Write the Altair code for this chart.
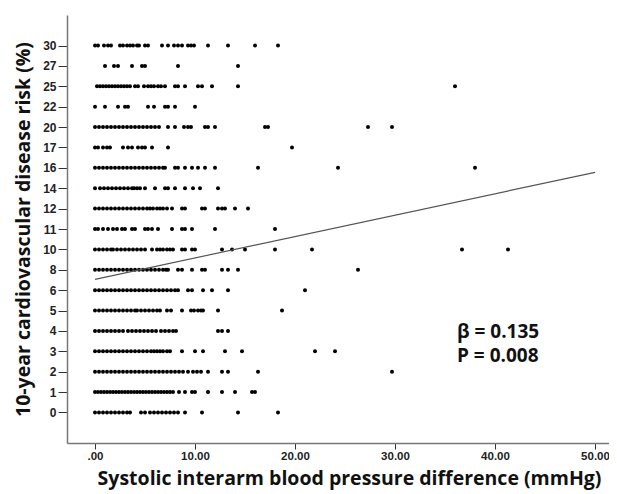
import altair as alt
import pandas as pd

# Risk categories (evenly spaced on the y axis)
risk_levels = ["0", "1", "2", "3", "4", "5", "6", "8", "10", "11", "12",
               "14", "16", "17", "20", "22", "25", "27", "30"]

x_r0 = [0, 0.4, 0.8, 1.2, 1.6, 2.0, 2.4, 2.8, 3.2, 3.5, 4.6, 5.0, 5.5, 5.9, 6.3,
        6.7, 7.1, 7.5, 7.9, 8.3, 9.0, 10.7, 14.3, 18.3]
x_r1 = [0, 0.3, 0.6, 0.9, 1.2, 1.5, 1.8, 2.1, 2.4, 2.7, 3.0, 3.3, 3.6, 3.9, 4.2,
        4.5, 4.8, 5.1, 5.4, 5.7, 6.0, 6.3, 6.6, 6.9, 7.2, 7.5, 7.8, 8.4, 9.0, 9.7,
        10.0, 11.3, 12.7, 14.0, 15.7, 16.0]
x_r2 = [0, 0.4, 0.8, 1.2, 1.6, 2.0, 2.4, 2.8, 3.2, 3.6, 4.0, 4.4, 4.8, 5.2, 5.6,
        6.0, 6.4, 6.8, 7.2, 7.6, 8.0, 8.4, 8.8, 9.3, 9.8, 10.2, 10.6, 11.3, 12.7,
        13.3, 16.3, 29.7]
x_r3 = [0, 0.4, 0.8, 1.2, 1.6, 2.0, 2.4, 2.8, 3.2, 3.6, 4.0, 4.4, 4.8, 5.2, 5.6,
        5.9, 6.2, 6.5, 6.8, 7.2, 7.5, 8.7, 10.0, 10.8, 13.0, 14.7, 22.0, 24.0]
x_r4 = [0, 0.4, 0.8, 1.2, 1.6, 2.0, 2.4, 2.8, 3.3, 3.7, 4.1, 4.5, 4.9, 5.3, 5.7,
        6.1, 6.6, 7.0, 7.4, 7.8, 8.1, 12.3, 12.7, 13.3]
x_r5 = [0, 0.4, 0.8, 1.2, 1.6, 2.0, 2.4, 2.8, 3.2, 3.6, 4.0, 4.2, 4.6, 5.0, 5.4,
        5.8, 6.2, 6.5, 7.2, 7.6, 8.7, 9.6, 9.9, 10.3, 10.6, 10.8, 12.3, 18.7]
x_r6 = [0, 0.4, 0.8, 1.2, 1.6, 2.0, 2.4, 2.8, 3.2, 3.6, 4.0, 4.4, 4.8, 5.2, 5.6,
        6.0, 6.4, 6.8, 7.2, 7.6, 8.0, 8.3, 9.3, 9.7, 10.8, 11.7, 13.3, 21.0]
x_r8 = [0, 0.4, 0.8, 1.2, 1.6, 2.0, 2.4, 2.8, 3.2, 3.6, 4.0, 4.4, 4.8, 5.2, 5.6,
        6.0, 6.4, 6.8, 7.1, 7.3, 8.3, 8.7, 9.7, 10.7, 11.0, 12.7, 13.3, 14.3, 26.3]
x_r10 = [0, 0.4, 0.8, 1.2, 1.6, 1.8, 2.2, 2.6, 3.0, 3.4, 3.8, 4.2, 4.6, 5.0, 5.7,
         6.2, 6.5, 6.8, 7.2, 7.5, 7.8, 8.7, 9.0, 9.7, 10.0, 12.7, 13.7, 15.0, 18.0,
         21.7, 36.7, 41.3]
x_r11 = [0, 0.3, 0.8, 1.3, 1.8, 2.2, 2.7, 3.0, 3.7, 4.0, 5.0, 5.3, 5.7, 6.3, 7.7,
         8.7, 9.0, 9.7, 12.0, 18.0]
x_r12 = [0, 0.4, 0.8, 1.2, 1.6, 2.0, 2.4, 2.8, 3.2, 3.6, 4.0, 4.4, 4.8, 5.2, 5.5,
         5.8, 6.2, 6.5, 6.8, 7.2, 7.7, 8.7, 9.0, 10.7, 11.0, 12.3, 12.7, 13.0, 14.0,
         15.3]
x_r14 = [0, 0.5, 0.9, 1.3, 1.7, 2.1, 2.5, 2.9, 3.3, 3.7, 3.9, 4.2, 4.5, 5.0, 6.0,
         7.0, 7.3, 8.0, 9.0, 9.8, 10.5, 12.3]
x_r16 = [0, 0.4, 0.8, 1.2, 1.6, 2.0, 2.4, 2.8, 3.2, 3.6, 4.0, 4.4, 4.8, 5.2, 5.6,
         6.0, 6.4, 6.8, 7.0, 8.0, 8.3, 9.0, 9.7, 10.3, 11.0, 12.0, 16.3, 24.3, 38.0]
x_r17 = [0, 0.3, 0.8, 1.2, 1.5, 2.8, 3.3, 3.7, 4.3, 4.7, 5.0, 5.7, 7.3, 19.7]
x_r20 = [0, 0.4, 0.8, 1.2, 1.6, 2.0, 2.4, 2.8, 3.2, 3.6, 4.0, 4.4, 4.8, 5.2, 5.6,
         6.0, 6.4, 7.3, 8.0, 8.9, 9.3, 9.6, 11.0, 11.3, 12.0, 17.0, 17.3, 27.3, 29.7]
x_r22 = [0, 1.0, 2.3, 3.0, 3.3, 5.3, 5.9, 7.0, 7.3, 8.0, 10.0]
x_r25 = [0.2, 0.5, 0.8, 1.1, 1.4, 1.7, 2.0, 2.3, 2.6, 2.9, 3.2, 3.5, 4.0, 4.3, 4.9,
         5.3, 5.6, 5.9, 6.3, 6.6, 7.0, 8.0, 8.3, 9.0, 10.3, 10.7, 11.7, 14.3, 36.0]
x_r27 = [1.0, 1.9, 2.3, 3.7, 4.7, 5.0, 8.3, 14.3]
x_r30 = [0, 0.3, 0.9, 1.3, 1.6, 2.5, 2.8, 3.2, 3.5, 3.8, 4.2, 4.4, 5.0, 5.3, 6.7,
         7.3, 7.9, 8.3, 8.7, 9.3, 9.6, 9.9, 11.3, 13.3, 16.0, 18.3]

rows_x = [x_r0, x_r1, x_r2, x_r3, x_r4, x_r5, x_r6, x_r8, x_r10, x_r11, x_r12,
          x_r14, x_r16, x_r17, x_r20, x_r22, x_r25, x_r27, x_r30]

# Fitted line (x in mmHg, y in category position)
line_x = [0, 50]
line_y = [6.53, 11.78]

# Annotation (two lines, one text mark)
note_text = ["β = 0.135\nP = 0.008"]
note_x = [36.2]
note_y = [3.63]

x_ticks = [0, 10, 20, 30, 40, 50]

recs = []
for i, xs in enumerate(rows_x):
    for v in xs:
        recs.append({"x": v, "y": i, "risk": risk_levels[i]})
pts = pd.DataFrame(recs)
line_df = pd.DataFrame({"x": line_x, "y": line_y})
note_df = pd.DataFrame({"x": note_x, "y": note_y, "t": note_text})

label_arr = "[" + ",".join("'" + s + "'" for s in risk_levels) + "]"

xscale = alt.Scale(domain=[-2.8, 51.4], nice=False, zero=False)
yscale = alt.Scale(domain=[-1.5, 19.5], nice=False, zero=False)

xaxis = alt.Axis(
    values=x_ticks, grid=False, labelOverlap=False,
    labelExpr="datum.value == 0 ? '.00' : format(datum.value, '.2f')",
    title="Systolic interarm blood pressure difference (mmHg)",
    labelFont="Liberation Sans", labelFontWeight="bold", labelFontSize=11.5,
    labelColor="#222", labelPadding=1,
    titleFont="Open Sans", titleFontWeight="bold", titleFontSize=19.5,
    titleColor="#111", titlePadding=8, titleX=282,
    domainColor="#777", domainWidth=1.5, tickColor="#333", tickSize=6, tickWidth=1,
)
yaxis = alt.Axis(
    values=list(range(len(risk_levels))), grid=False, labelOverlap=False,
    labelExpr=label_arr + "[datum.value]",
    title="10-year cardiovascular disease risk (%)",
    labelFont="Liberation Sans", labelFontWeight="bold", labelFontSize=12,
    labelColor="#222", labelPadding=2,
    titleFont="Open Sans", titleFontWeight="bold", titleFontSize=19.5,
    titleColor="#111", titlePadding=9,
    domainColor="#777", domainWidth=1.5, tickColor="#333", tickSize=9, tickWidth=1,
)

X = alt.X("x:Q", scale=xscale, axis=xaxis)
Y = alt.Y("y:Q", scale=yscale, axis=yaxis)

points = alt.Chart(pts).mark_circle(size=16, color="black", opacity=1).encode(
    x=X, y=Y,
)

fit = alt.Chart(line_df).mark_line(color="#555", strokeWidth=1.2).encode(
    x=X, y=Y,
)

note = alt.Chart(note_df).mark_text(
    align="left", baseline="alphabetic", font="Open Sans", fontWeight="bold",
    fontSize=19, color="#111", lineBreak="\n", lineHeight=24,
).encode(
    x=X, y=Y, text="t:N",
)

chart = alt.layer(points, fit, note).properties(
    width=542, height=428,
    autosize=alt.AutoSizeParams(type="none"),
    padding={"left": 59, "top": 7, "right": 0, "bottom": 50},
).configure(background="white", view=alt.ViewConfig(stroke=None))

chart.save("out.html", embed_options={"renderer": "svg", "actions": False})
